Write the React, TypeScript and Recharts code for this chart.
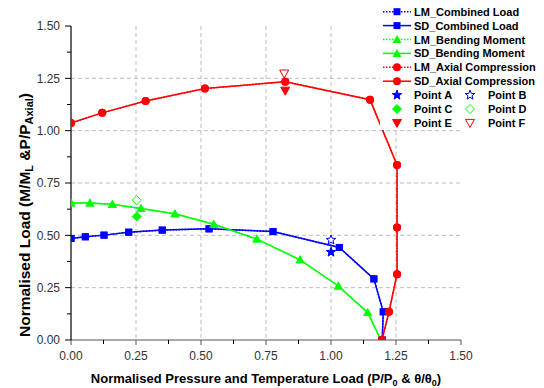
import React from 'react';
import { ComposedChart, Line, Scatter, XAxis, YAxis, CartesianGrid, Legend } from 'recharts';

// ---- data ----
const combinedX = [0, 0.055, 0.127, 0.222, 0.351, 0.531, 0.777, 1.032, 1.165, 1.201, 1.197];
const lmCombinedY = [0.485, 0.493, 0.501, 0.515, 0.525, 0.531, 0.518, 0.442, 0.292, 0.135, 0];
const sdCombinedY = [0.485, 0.493, 0.501, 0.515, 0.525, 0.531, 0.518, 0.442, 0.292, 0.135, 0];

const bendingX = [0, 0.073, 0.159, 0.269, 0.4, 0.549, 0.715, 0.881, 1.028, 1.141, 1.192];
const lmBendingY = [0.654, 0.654, 0.648, 0.628, 0.603, 0.553, 0.482, 0.383, 0.258, 0.131, 0];
const sdBendingY = [0.654, 0.654, 0.648, 0.628, 0.603, 0.553, 0.482, 0.383, 0.258, 0.131, 0];

const axialX = [0, 0.12, 0.287, 0.515, 0.824, 1.15, 1.254, 1.254, 1.254, 1.223, 1.196];
const lmAxialY = [1.037, 1.085, 1.142, 1.201, 1.234, 1.148, 0.836, 0.537, 0.314, 0.135, 0];
const sdAxialY = [1.037, 1.085, 1.142, 1.201, 1.234, 1.148, 0.836, 0.537, 0.314, 0.135, 0];

const pointNames = ['Point A', 'Point B', 'Point C', 'Point D', 'Point E', 'Point F'];
const pointX = [1.0, 1.0, 0.253, 0.253, 0.824, 0.82];
const pointY = [0.42, 0.478, 0.59, 0.668, 1.191, 1.273];

const seriesNames = [
  'LM_Combined Load',
  'SD_Combined Load',
  'LM_Bending Moment',
  'SD_Bending Moment',
  'LM_Axial Compression',
  'SD_Axial Compression',
];

const axisTicks = [0, 0.125, 0.25, 0.375, 0.5, 0.625, 0.75, 0.875, 1, 1.125, 1.25, 1.375, 1.5];
const gridValues = [0.25, 0.5, 0.75, 1, 1.25];

const zip = (xs: number[], ys: number[]) => xs.map((x, i) => ({ x, y: ys[i] }));

const BLUE = '#0000ff';
const GREEN = '#00ff00';
const RED = '#ff0000';
const FONT = '"Liberation Sans", Arial, sans-serif';

// ---- marker shapes ----
const squareEl = (cx: number, cy: number, color: string, key?: any) => (
  <rect key={key} x={cx - 3.5} y={cy - 3.5} width={7} height={7} fill={color} />
);
const triEl = (cx: number, cy: number, color: string, key?: any) => (
  <polygon key={key} points={`${cx},${cy - 4.5} ${cx - 4.5},${cy + 3.5} ${cx + 4.5},${cy + 3.5}`} fill={color} />
);
const circleEl = (cx: number, cy: number, color: string, key?: any) => (
  <circle key={key} cx={cx} cy={cy} r={4} fill={color} />
);
const starPts = (cx: number, cy: number, R = 5, r = 2.1) => {
  const pts: string[] = [];
  for (let i = 0; i < 10; i++) {
    const a = -Math.PI / 2 + (i * Math.PI) / 5;
    const rad = i % 2 === 0 ? R : r;
    pts.push(`${cx + rad * Math.cos(a)},${cy + rad * Math.sin(a)}`);
  }
  return pts.join(' ');
};
const starEl = (cx: number, cy: number, color: string, filled: boolean, key?: any) => (
  <polygon key={key} points={starPts(cx, cy)} fill={filled ? color : '#fff'} stroke={color} strokeWidth={1} />
);
const diamondEl = (cx: number, cy: number, color: string, filled: boolean, key?: any) => (
  <polygon
    key={key}
    points={`${cx},${cy - 4.5} ${cx + 4.5},${cy} ${cx},${cy + 4.5} ${cx - 4.5},${cy}`}
    fill={filled ? color : '#fff'}
    stroke={color}
    strokeWidth={1}
  />
);
const downTriEl = (cx: number, cy: number, color: string, filled: boolean, key?: any) => (
  <polygon
    key={key}
    points={`${cx - 4.5},${cy - 3.5} ${cx + 4.5},${cy - 3.5} ${cx},${cy + 4.5}`}
    fill={filled ? color : '#fff'}
    stroke={color}
    strokeWidth={1}
  />
);

const dotFn = (kind: string, color: string) => (p: any) => {
  const k = `d-${kind}-${color}-${p.index}`;
  if (p.cx == null || p.cy == null) return <g key={k} />;
  if (kind === 'square') return squareEl(p.cx, p.cy, color, k);
  if (kind === 'tri') return triEl(p.cx, p.cy, color, k);
  return circleEl(p.cx, p.cy, color, k);
};

const pointShape = (idx: number) => (p: any) => {
  const { cx, cy } = p;
  if (idx === 0) return starEl(cx, cy, BLUE, true);
  if (idx === 1) return starEl(cx, cy, BLUE, false);
  if (idx === 2) return diamondEl(cx, cy, GREEN, true);
  if (idx === 3) return diamondEl(cx, cy, GREEN, false);
  if (idx === 4) return downTriEl(cx, cy, RED, true);
  return downTriEl(cx, cy, RED, false);
};

// ---- ticks ----
const isMajor = (v: number) => Math.abs(v * 4 - Math.round(v * 4)) < 1e-6;

const Y_TICK_SIZE = 6;
const Y_TICK_MARGIN = 5;
const YTick = (props: any) => {
  const { x, y, payload } = props;
  const v = payload.value;
  const ax = x + Y_TICK_SIZE + Y_TICK_MARGIN;
  const major = isMajor(v);
  return (
    <g>
      <line x1={ax - (major ? 6 : 4)} x2={ax} y1={y} y2={y} stroke="#000" strokeWidth={1} />
      {major && (
        <text x={x} y={y + 4.3} textAnchor="end" fontSize={12} fill="#333" fontFamily={FONT}>
          {v.toFixed(2)}
        </text>
      )}
    </g>
  );
};

const X_TICK_SIZE = 5;
const X_TICK_MARGIN = 10;
const XTick = (props: any) => {
  const { x, y, payload } = props;
  const v = payload.value;
  const ay = y - X_TICK_SIZE - X_TICK_MARGIN;
  const major = isMajor(v);
  return (
    <g>
      <line x1={x} x2={x} y1={ay} y2={ay + (major ? 5 : 4)} stroke={major ? '#555' : '#000'} strokeWidth={1} />
      {major && (
        <text x={x} y={ay + 20} textAnchor="middle" fontSize={12} fill="#333" fontFamily={FONT}>
          {v.toFixed(2)}
        </text>
      )}
    </g>
  );
};

// ---- axis titles ----
const YTitle = (props: any) => {
  const vb = props.viewBox || { x: 0, y: 26, width: 71, height: 314 };
  const cx = vb.x + 30;
  const cy = vb.y + vb.height / 2 + 32;
  return (
    <text
      x={cx}
      y={cy}
      transform={`rotate(-90, ${cx}, ${cy})`}
      textAnchor="middle"
      fontSize={15.5}
      fontWeight="bold"
      fill="#000"
      fontFamily={FONT}
    >
      <tspan>Normalised Load (M/M</tspan>
      <tspan fontSize={11} dy={3}>L</tspan>
      <tspan dy={-3}> &amp;P/P</tspan>
      <tspan fontSize={11} dy={3}>Axial</tspan>
      <tspan dy={-3}>)</tspan>
    </text>
  );
};

const XTitle = (props: any) => {
  const vb = props.viewBox || { x: 71, y: 340, width: 390, height: 48 };
  const cx = vb.x + vb.width / 2;
  const cy = vb.y + 43;
  return (
    <text x={cx} y={cy} textAnchor="middle" fontSize={13} fontWeight="bold" fill="#000" fontFamily={FONT}>
      <tspan>Normalised Pressure and Temperature Load (P/P</tspan>
      <tspan fontSize={9} dy={2.5}>0</tspan>
      <tspan dy={-2.5}> &amp; θ/θ</tspan>
      <tspan fontSize={9} dy={2.5}>0</tspan>
      <tspan dy={-2.5}>)</tspan>
    </text>
  );
};

// ---- legend ----
const seriesStyle = [
  { color: BLUE, kind: 'square', dash: '1.5 1.5' },
  { color: BLUE, kind: 'square', dash: undefined },
  { color: GREEN, kind: 'tri', dash: '1.5 1.5' },
  { color: GREEN, kind: 'tri', dash: undefined },
  { color: RED, kind: 'circle', dash: '1.5 1.5' },
  { color: RED, kind: 'circle', dash: undefined },
];

const LegendContent = () => {
  const rowY = (i: number) => 11.7 + 13.9 * i;
  const markerFor = (kind: string, cx: number, cy: number, color: string) =>
    kind === 'square' ? squareEl(cx, cy, color) : kind === 'tri' ? triEl(cx, cy, color) : circleEl(cx, cy, color);
  return (
    <svg width={164} height={130} style={{ display: 'block', background: '#fff' }}>
      {seriesNames.map((name, i) => {
        const s = seriesStyle[i];
        const y = rowY(i);
        return (
          <g key={name}>
            <line x1={3} x2={31} y1={y} y2={y} stroke={s.color} strokeWidth={1.5} strokeDasharray={s.dash} />
            {markerFor(s.kind, 17, y, s.color)}
            <text x={34} y={y + 4} fontSize={11} fontWeight="bold" fill="#000" fontFamily={FONT}>
              {name}
            </text>
          </g>
        );
      })}
      {pointNames.map((name, i) => {
        const row = 6 + Math.floor(i / 2);
        const col = i % 2;
        const y = rowY(row);
        const mx = col === 0 ? 17 : 90;
        const tx = col === 0 ? 34 : 108;
        return (
          <g key={name}>
            {pointShape(i)({ cx: mx, cy: y })}
            <text x={tx} y={y + 4} fontSize={11} fontWeight="bold" fill="#000" fontFamily={FONT}>
              {name}
            </text>
          </g>
        );
      })}
    </svg>
  );
};

const seriesData = [
  zip(combinedX, lmCombinedY),
  zip(combinedX, sdCombinedY),
  zip(bendingX, lmBendingY),
  zip(bendingX, sdBendingY),
  zip(axialX, lmAxialY),
  zip(axialX, sdAxialY),
];

export default function App() {
  return (
    <div style={{ position: 'absolute', left: 0, top: 0, width: 544, height: 388, background: '#fff' }}>
      <ComposedChart width={544} height={388} margin={{ top: 26, right: 83, bottom: 0, left: 0 }}>
        <CartesianGrid
          stroke="#bdbdbd"
          strokeDasharray="4 3"
          horizontalValues={gridValues}
          verticalValues={gridValues}
        />
        <XAxis
          type="number"
          dataKey="x"
          domain={[0, 1.5]}
          ticks={axisTicks}
          interval={0}
          allowDataOverflow
          height={48}
          axisLine={{ stroke: '#555', strokeWidth: 1.2 }}
          tickLine={false}
          tickSize={X_TICK_SIZE}
          tickMargin={X_TICK_MARGIN}
          tick={<XTick />}
          label={{ content: XTitle }}
        />
        <YAxis
          type="number"
          dataKey="y"
          domain={[0, 1.5]}
          ticks={axisTicks}
          interval={0}
          allowDataOverflow
          width={71}
          axisLine={{ stroke: '#000', strokeWidth: 1.2 }}
          tickLine={false}
          tickSize={Y_TICK_SIZE}
          tickMargin={Y_TICK_MARGIN}
          tick={<YTick />}
          label={{ content: YTitle }}
        />
        {seriesData.map((d, i) => {
          const s = seriesStyle[i];
          return (
            <Line
              key={seriesNames[i]}
              name={seriesNames[i]}
              data={d}
              dataKey="y"
              type="linear"
              stroke={s.color}
              strokeWidth={1.5}
              strokeDasharray={s.dash}
              dot={dotFn(s.kind, s.color)}
              activeDot={false}
              isAnimationActive={false}
              legendType="none"
            />
          );
        })}
        {pointNames.map((name, i) => (
          <Scatter
            key={name}
            name={name}
            data={[{ x: pointX[i], y: pointY[i] }]}
            dataKey="y"
            shape={pointShape(i)}
            isAnimationActive={false}
            legendType="none"
          />
        ))}
        <Legend
          layout="vertical"
          align="center"
          verticalAlign="middle"
          content={<LegendContent />}
          wrapperStyle={{ position: 'absolute', left: 380, top: 0, width: 164, height: 130 }}
        />
      </ComposedChart>
    </div>
  );
}
